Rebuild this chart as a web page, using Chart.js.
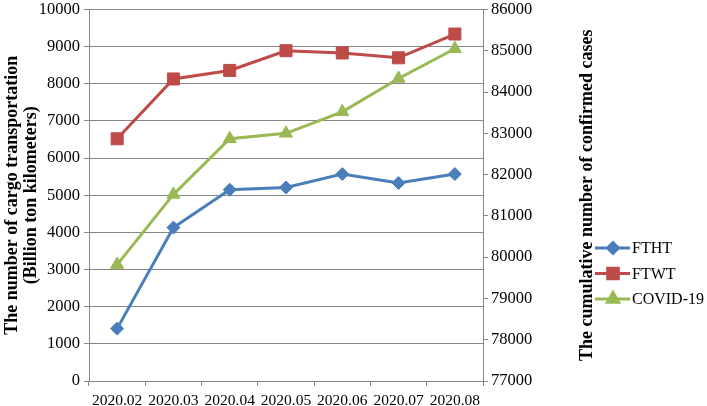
<!DOCTYPE html>
<html>
<head>
<meta charset="utf-8">
<script src="https://cdn.jsdelivr.net/npm/chart.js"></script>
<style>
  html, body { margin: 0; padding: 0; background: #fff; }
  #wrap { width: 707px; height: 406px; position: relative; }
</style>
</head>
<body>
<div id="wrap"><canvas id="chart" width="707" height="406"></canvas></div>
<script>
// chart data
const months = ['2020.02', '2020.03', '2020.04', '2020.05', '2020.06', '2020.07', '2020.08'];
const fthtValues = [1410, 4130, 5150, 5210, 5570, 5330, 5570];
const ftwtValues = [6520, 8130, 8360, 8890, 8830, 8700, 9340];
const covidValues = [79820, 81520, 82870, 83000, 83520, 84330, 85050];
const leftTicks = { min: 0, max: 10000, step: 1000 };
const rightTicks = { min: 77000, max: 86000, step: 1000 };

const FONT = "'Liberation Serif', 'Times New Roman', serif";
const GRID = '#868686';
const BLUE = '#4A7EBB';
const RED = '#BE4B48';
const GREEN = '#98B954';
const RIGHT_TITLE = 'The cumulative number of confirmed cases';

// excel style legend (line with marker) plus the right axis title read bottom to top
const sideLegend = {
  id: 'sideLegend',
  afterDraw(chart) {
    const ctx = chart.ctx;
    const area = chart.chartArea;
    ctx.save();
    // right title
    ctx.translate(area.right + 104, (area.top + area.bottom) / 2);
    ctx.rotate(-Math.PI / 2);
    ctx.fillStyle = '#000';
    ctx.font = 'bold 18px ' + FONT;
    ctx.textAlign = 'center';
    ctx.textBaseline = 'middle';
    ctx.fillText(RIGHT_TITLE, 0, 0);
    ctx.restore();

    const x0 = area.right + 112;
    const y0 = 248;
    ctx.save();
    chart.data.datasets.forEach((ds, i) => {
      const y = y0 + i * 25.5;
      ctx.strokeStyle = ds.borderColor;
      ctx.lineWidth = 3;
      ctx.beginPath();
      ctx.moveTo(x0, y);
      ctx.lineTo(x0 + 35, y);
      ctx.stroke();
      ctx.fillStyle = ds.pointBackgroundColor;
      ctx.strokeStyle = ds.pointBorderColor;
      Chart.helpers.drawPoint(ctx, { pointStyle: ds.pointStyle, radius: ds.pointRadius - 1, rotation: 0, borderWidth: 1 }, x0 + 18, y);
      ctx.fillStyle = '#000';
      ctx.font = '16px ' + FONT;
      ctx.textBaseline = 'middle';
      ctx.textAlign = 'left';
      ctx.fillText(ds.label, x0 + 37, y + 1);
    });
    ctx.restore();
  }
};

function series(label, data, color, style, radius, axis) {
  return {
    label, data, yAxisID: axis,
    borderColor: color, backgroundColor: color,
    pointBackgroundColor: color, pointBorderColor: color,
    pointStyle: style, pointRadius: radius, pointHoverRadius: radius,
    borderWidth: 3, pointBorderWidth: 1, tension: 0
  };
}

const plainTick = v => String(v);

new Chart(document.getElementById('chart'), {
  type: 'line',
  data: {
    labels: months,
    datasets: [
      series('FTHT', fthtValues, BLUE, 'rectRot', 6.5, 'y'),
      series('FTWT', ftwtValues, RED, 'rect', 8.5, 'y'),
      series('COVID-19', covidValues, GREEN, 'triangle', 7.5, 'y1')
    ]
  },
  options: {
    responsive: false,
    animation: false,
    layout: { padding: { left: 0, right: 115, top: 2, bottom: 0 } },
    plugins: { legend: { display: false }, tooltip: { enabled: false } },
    scales: {
      x: {
        offset: true,
        grid: { offset: true, drawOnChartArea: false, color: GRID, tickLength: 5 },
        border: { color: GRID },
        ticks: { color: '#000', font: { family: FONT, size: 15.5 }, padding: 6, maxRotation: 0, autoSkip: false },
        afterFit(s) { s.height = 25; }
      },
      y: {
        position: 'left',
        min: leftTicks.min, max: leftTicks.max,
        grid: { color: GRID, tickLength: 5 },
        border: { color: GRID },
        ticks: { stepSize: leftTicks.step, color: '#000', font: { family: FONT, size: 16.5 }, padding: 4, callback: plainTick },
        title: {
          display: true,
          text: ['The number of cargo transportation', '(Billion ton kilometers)'],
          color: '#000', font: { family: FONT, size: 18, weight: 'bold', lineHeight: 1.1 },
          padding: { top: 2, bottom: 0 }
        },
        afterFit(s) { s.width = 89; s.paddingTop = 0; s.paddingBottom = 0; }
      },
      y1: {
        position: 'right',
        min: rightTicks.min, max: rightTicks.max,
        grid: { drawOnChartArea: false, color: GRID, tickLength: 5 },
        border: { color: GRID },
        ticks: { stepSize: rightTicks.step, color: '#000', font: { family: FONT, size: 16.5 }, padding: 3, callback: plainTick },
        afterFit(s) { s.width = 109; s.paddingTop = 0; s.paddingBottom = 0; }
      }
    }
  },
  plugins: [sideLegend]
});
</script>
</body>
</html>
